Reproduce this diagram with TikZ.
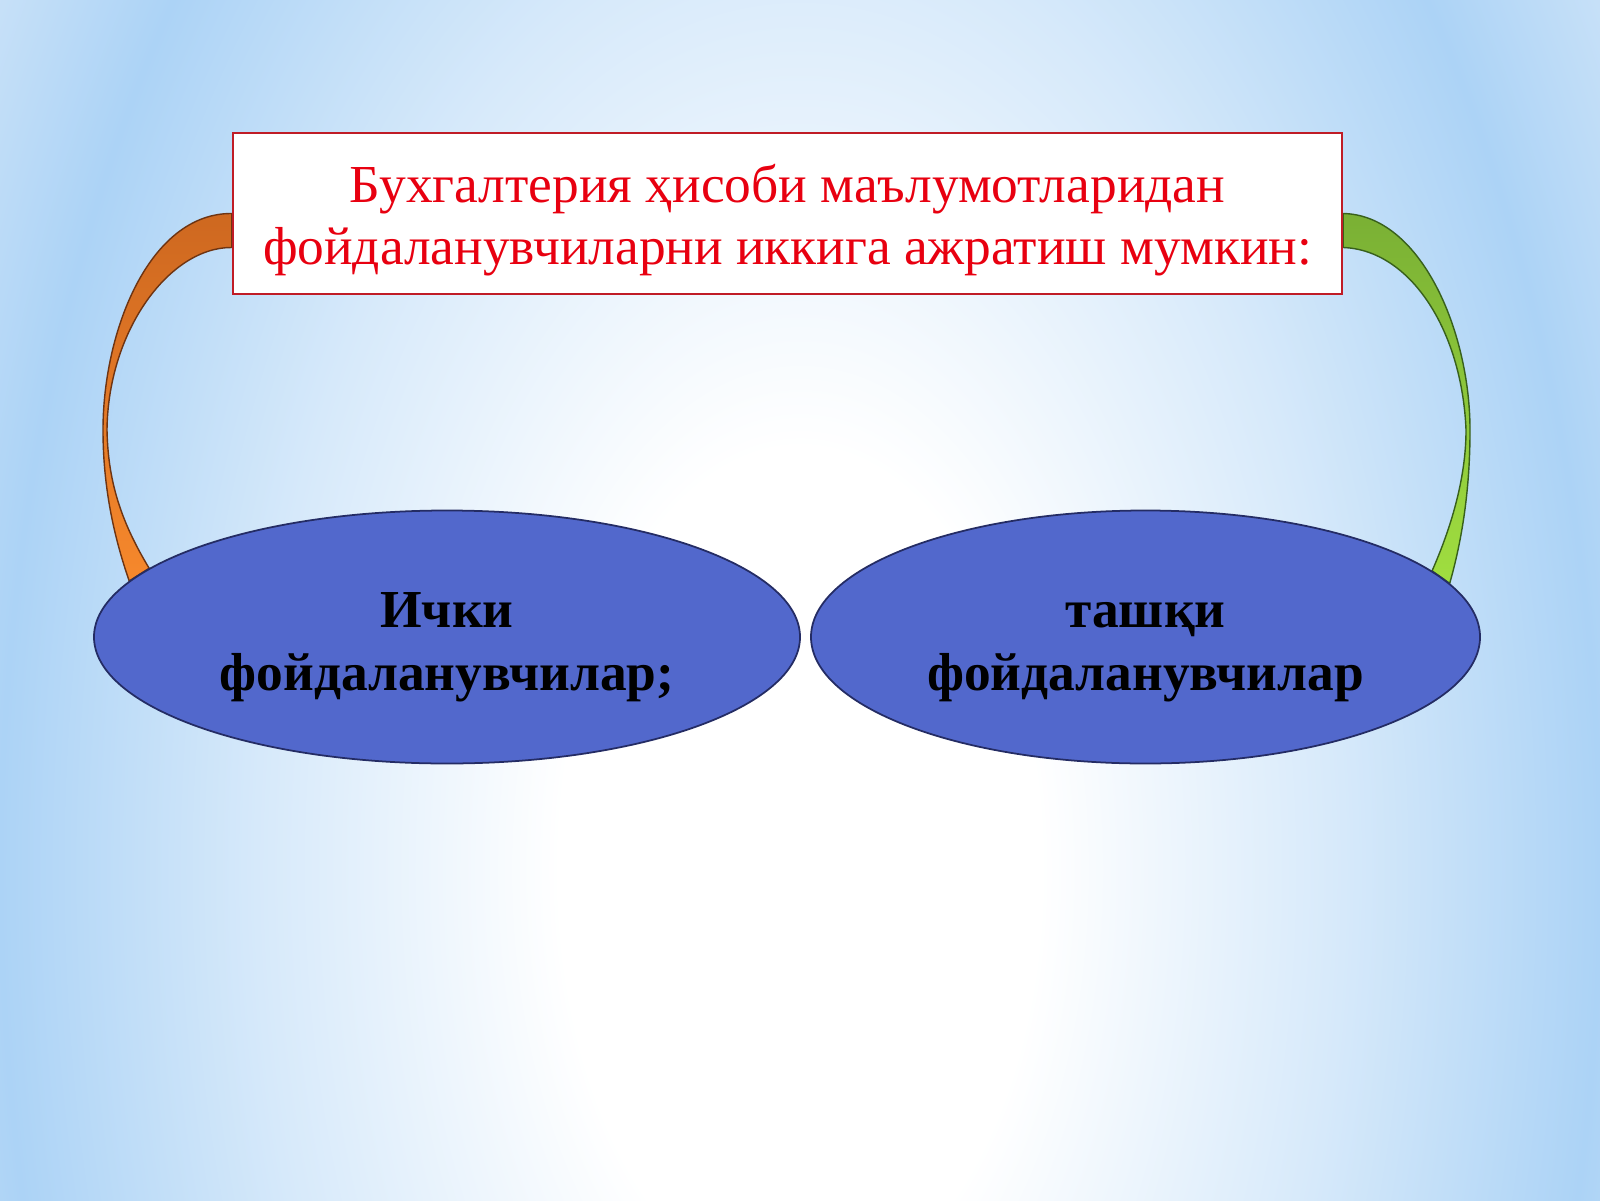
\documentclass[tikz,border=0pt]{standalone}
\usepackage{fontspec}
\setmainfont{Liberation Serif}
\usetikzlibrary{shapes.geometric, calc, backgrounds}

\definecolor{titlered}{RGB}{232,0,16}
\definecolor{framered}{RGB}{192,28,38}
\definecolor{ovalblue}{RGB}{82,104,204}
\definecolor{ovalline}{RGB}{36,44,100}
\definecolor{bgblue}{RGB}{172,211,246}
\definecolor{bgmid}{RGB}{214,233,250}
\definecolor{bgcorner}{RGB}{202,226,248}
\definecolor{orangetop}{RGB}{206,104,32}
\definecolor{orangebot}{RGB}{246,136,44}
\definecolor{orangeline}{RGB}{110,52,18}
\definecolor{greentop}{RGB}{122,176,52}
\definecolor{greenbot}{RGB}{160,222,64}
\definecolor{greenline}{RGB}{56,96,28}

\pgfdeclareradialshading{slideglow}{\pgfpoint{0bp}{0bp}}{color(0bp)=(white); color(15bp)=(white); color(34bp)=(bgmid); color(50bp)=(bgblue); color(60bp)=(bgcorner); color(75bp)=(bgcorner)}

\begin{document}
\begin{tikzpicture}[
    headbox/.style={rectangle, draw=framered, line width=0.7pt, fill=white, minimum width=11.09cm, minimum height=1.61cm, align=center, text=titlered, font=\fontsize{15.2}{17.6}\selectfont},
    oval/.style={ellipse, draw=ovalline, line width=0.5pt, fill=ovalblue, minimum height=2.53cm, inner sep=0pt, align=center, font=\fontsize{15.2}{17.9}\selectfont\bfseries},
    ribbonleft/.style={draw=orangeline, line width=0.4pt, top color=orangetop, bottom color=orangebot},
    ribbonright/.style={draw=greenline, line width=0.4pt, top color=greentop, bottom color=greenbot}
    ]
    \useasboundingbox (0,0) rectangle (16,12);

    % Heading
    \node[headbox] (title) at (7.875,9.865) {\rule{0pt}{0.95em}Бухгалтерия ҳисоби маълумотларидан\\фойдаланувчиларни иккига ажратиш мумкин:};

    % Users
    \node[oval, minimum width=7.06cm] (ichki) at (4.47,5.63) {\rule{0pt}{1.04em}Ички\\фойдаланувчилар;};
    \node[oval, minimum width=6.69cm] (tashqi) at (11.455,5.63) {\rule{0pt}{1.04em}ташқи\\фойдаланувчилар};

    \begin{pgfonlayer}{background}
    % Slide background
    \begin{scope}
        \clip (0,0) rectangle (16,12);
        \begin{scope}[transform canvas={shift={(8,3.3)}, xscale=4.535, yscale=7.937}]
            \pgfuseshading{slideglow}
        \end{scope}
    \end{scope}

    % Left ribbon
    \path[ribbonleft] (title.west) .. controls (1.50,9.87) and (1.03,8.70) .. (1.03,7.70)
        .. controls (1.03,7.10) and (1.15,6.60) .. (ichki.170) -- (ichki.167)
        .. controls (1.20,6.80) and (1.08,7.20) .. (1.07,7.70)
        .. controls (1.08,8.70) and (1.70,9.53) .. ([yshift=-0.34cm]title.west) -- cycle;

    % Right ribbon
    \path[ribbonright] (title.east) .. controls (14.20,9.85) and (14.70,8.70) .. (14.70,7.70)
        .. controls (14.70,7.10) and (14.62,6.60) .. (tashqi.10) -- (tashqi.13)
        .. controls (14.50,6.70) and (14.66,7.20) .. (14.66,7.70)
        .. controls (14.62,8.70) and (14.10,9.50) .. ([yshift=-0.34cm]title.east) -- cycle;
    \end{pgfonlayer}

\end{tikzpicture}
\end{document}
